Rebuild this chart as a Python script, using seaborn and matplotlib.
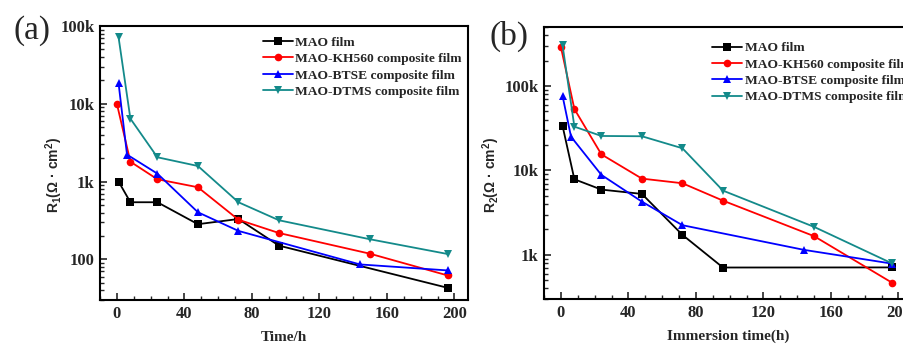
# EIS fitted resistances R1 / R2 versus immersion time, four films

import pandas as pd
import matplotlib.pyplot as plt
import matplotlib.ticker as mticker
import seaborn as sns

# data
films = ['MAO film', 'MAO-KH560 composite film',
         'MAO-BTSE composite film', 'MAO-DTMS composite film']

t_mao = [1, 8, 24, 48, 72, 96, 196]
t_kh = [0, 8, 24, 48, 72, 96, 150, 196]
t_btse = [1, 6, 24, 48, 72, 144, 196]
t_dtms = [1, 8, 24, 48, 72, 96, 150, 196]

r1_mao = [1000, 542, 542, 283, 330, 150, 43]
r1_kh = [10000, 1800, 1070, 845, 323, 218, 118, 62]
r1_btse = [18300, 2220, 1264, 403, 232, 86, 72]
r1_dtms = [71600, 6440, 2052, 1585, 542, 318, 181, 117]

r2_mao = [33600, 7860, 5930, 5270, 1725, 708, 710]
r2_kh = [290000, 53400, 15500, 8000, 7050, 4390, 1665, 470]
r2_btse = [76200, 25100, 8850, 4270, 2245, 1146, 788]
r2_dtms = [303000, 33000, 25600, 25400, 18300, 5770, 2145, 795]

colors = {films[0]: 'black', films[1]: '#ff0000',
          films[2]: '#0000ff', films[3]: '#138a8a'}
markers = {films[0]: 's', films[1]: 'o', films[2]: '^', films[3]: 'v'}


def long_form(series):
    rows = []
    for film, (t, r) in zip(films, series):
        for x, y in zip(t, r):
            rows.append({'time': x, 'R': y, 'film': film})
    return pd.DataFrame(rows)


df1 = long_form([(t_mao, r1_mao), (t_kh, r1_kh), (t_btse, r1_btse), (t_dtms, r1_dtms)])
df2 = long_form([(t_mao, r2_mao), (t_kh, r2_kh), (t_btse, r2_btse), (t_dtms, r2_dtms)])

sns.set_style('ticks')
plt.rcParams['font.family'] = ['Liberation Serif', 'DejaVu Serif']
plt.rcParams['mathtext.default'] = 'regular'

fig = plt.figure(figsize=(9.04, 3.47), dpi=100)
ax1 = fig.add_axes([100 / 904, 1 - 300 / 347, 368 / 904, 274 / 347])
ax2 = fig.add_axes([544 / 904, 1 - 299 / 347, 368 / 904, 272 / 347])


def k_fmt(v, pos):
    if v >= 1000:
        return '%dk' % round(v / 1000)
    return '%d' % round(v)


panels = [
    (ax1, df1, (30, 1e5), 'Time/h', 'R$_1$(Ω · cm$^2$)', '(a)',
     (0.443, 0.962), -0.095, (32, 31)),
    (ax2, df2, (300, 5e5), 'Immersion time(h)', 'R$_2$(Ω · cm$^2$)', '(b)',
     (0.457, 0.945), -0.114, (509, 36)),
]

for ax, df, ylim, xlabel, ylabel, tag, leg_anchor, ylab_x, tag_xy in panels:
    sns.lineplot(data=df, x='time', y='R', hue='film', style='film',
                 palette=colors, markers=markers, dashes=False,
                 markersize=5.5, linewidth=1.3, markeredgewidth=0,
                 hue_order=films, style_order=films, ax=ax)
    ax.set_yscale('log')
    ax.set_ylim(*ylim)
    ax.set_xlim(-10, 208)
    ax.xaxis.set_major_locator(mticker.MultipleLocator(40))
    ax.xaxis.set_minor_locator(mticker.MultipleLocator(10))
    ax.yaxis.set_major_formatter(mticker.FuncFormatter(k_fmt))
    ax.yaxis.set_minor_formatter(mticker.NullFormatter())
    ax.tick_params(which='both', direction='in', top=False, right=False)
    ax.tick_params(which='major', length=5, width=1.2, labelsize=12, pad=4)
    ax.tick_params(which='minor', length=3, width=1)
    for lab in ax.get_xticklabels() + ax.get_yticklabels():
        lab.set_fontweight('bold')
    for sp in ax.spines.values():
        sp.set_linewidth(1.5)
        sp.set_color('black')
    ax.set_xlabel(xlabel, fontsize=11, fontweight='bold')
    ax.xaxis.set_label_coords(0.5, -0.112)
    ax.set_ylabel(ylabel, fontsize=10, fontweight='bold',
                  family=['Liberation Sans', 'DejaVu Sans'])
    ax.yaxis.set_label_coords(ylab_x, 0.456)
    handles, labels = ax.get_legend_handles_labels()
    ax.legend(handles, labels, loc='upper left', bbox_to_anchor=leg_anchor,
              frameon=False, handlelength=2.2, handletextpad=0.2,
              labelspacing=0.29, borderaxespad=0, borderpad=0,
              prop={'family': 'Liberation Serif', 'weight': 'bold', 'size': 9.7})
    fig.text(tag_xy[0] / 904, 1 - tag_xy[1] / 347, tag, fontsize=24,
             ha='center', va='center')

fig.savefig('out.png', dpi=100)
